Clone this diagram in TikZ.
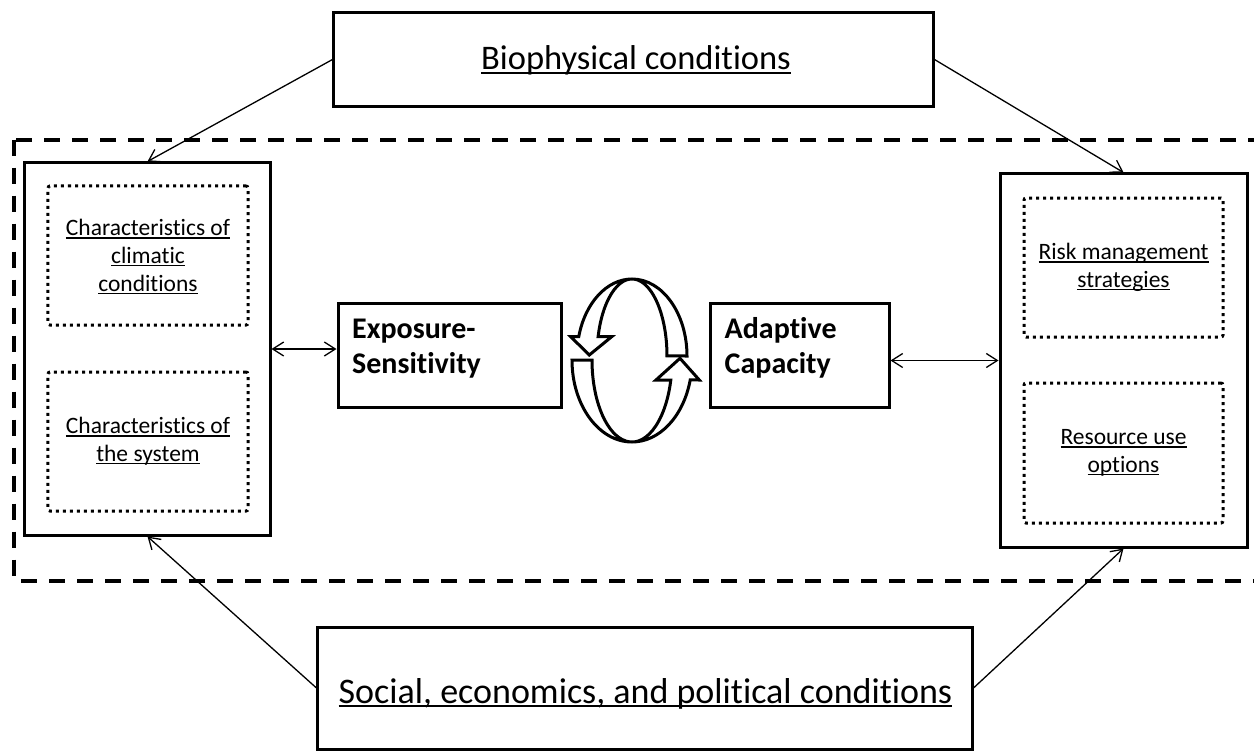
\documentclass[tikz,border=0pt]{standalone}
\usepackage{fontspec}
\setmainfont{Carlito}[Ligatures={NoCommon,NoContextual,NoRare}, RawFeature={-calt}]
\usetikzlibrary{arrows.meta}

% underline at a fixed depth, drawn through the descenders
\newsavebox\ulbox
\newcommand{\ulx}[1]{\sbox\ulbox{#1}\rlap{\smash{\rule[-0.12em]{\wd\ulbox}{0.06em}}}\usebox\ulbox}

\tikzset{
  solidbox/.style={draw, line width=3bp, fill=white, inner sep=0pt},
  dotbox/.style={draw, line width=3bp, dash pattern=on 3bp off 4bp, rounded corners=2bp,
    inner sep=0pt, align=center, font=\fontsize{23.5bp}{27.7bp}\selectfont},
  bigtext/.style={inner sep=0pt, anchor=base},
  boldtext/.style={inner sep=0pt, anchor=base west, font=\fontsize{30bp}{35bp}\selectfont\bfseries},
  dashframe/.style={draw, line width=4bp, dash pattern=on 16bp off 12bp},
  conn/.style={draw, line width=1.3bp, -{Straight Barb[length=11bp,width=14bp]}},
  conn2/.style={draw, line width=1.3bp, {Straight Barb[length=11bp,width=14bp]}-{Straight Barb[length=11bp,width=14bp]}},
  cyc/.style={draw, line width=3bp, fill=white, line join=miter}
}

\begin{document}
\begin{tikzpicture}[x=1bp, y=-1bp]
\useasboundingbox (0,0) rectangle (1254,753);
\fill[white] (0,0) rectangle (1254,753);

% dashed frame around the inner system (open on the right)
\begin{scope}
  \clip (0,0) rectangle (1254,753);
  \draw[dashframe] (14,139.5) rectangle (1290,580.5);
\end{scope}

% outer condition boxes
\node[solidbox, minimum width=599bp, minimum height=93bp] (bio) at (633.5,59.5) {};
\node[bigtext, font=\fontsize{34.5bp}{41bp}\selectfont] (biotext) at (636,70) {\ulx{Biophysical conditions}};
\node[solidbox, minimum width=654bp, minimum height=122bp] (soc) at (645,688) {};
\node[bigtext, font=\fontsize{36bp}{43bp}\selectfont] (soctext) at (645.5,703) {\ulx{Social, economics, and political conditions}};

% left column
\node[solidbox, minimum width=245bp, minimum height=372bp] (lbox) at (147.5,349) {};
\node[dotbox, minimum width=200bp, minimum height=139bp] (clim) at (148,255.5)
  {\ulx{Characteristics of}\\\ulx{climatic}\\\ulx{conditions}};
\node[dotbox, minimum width=200bp, minimum height=139bp] (syst) at (148,441.5)
  {\ulx{Characteristics of}\\\ulx{the system}};

% right column
\node[solidbox, minimum width=247bp, minimum height=373bp] (rbox) at (1123.5,360.5) {};
\node[dotbox, minimum width=199bp, minimum height=139bp] (risk) at (1123.5,267.5)
  {\ulx{Risk management}\\\ulx{strategies}};
\node[dotbox, minimum width=199bp, minimum height=140bp] (res) at (1123.5,453)
  {\ulx{Resource use}\\\ulx{options}};

% central boxes
\node[solidbox, minimum width=223bp, minimum height=104bp] (expo) at (449.5,355) {};
\node[boldtext] (expo1) at (352,338) {Exposure-};
\node[boldtext] (expo2) at (352,373) {Sensitivity};
\node[solidbox, minimum width=179bp, minimum height=104bp] (adap) at (799.5,355) {};
\node[boldtext] (adap1) at (724.5,338) {Adaptive};
\node[boldtext] (adap2) at (724.5,373) {Capacity};

% cycle of two curved block arrows
\draw[cyc] (687,356) arc[start angle=0, end angle=-165.5, x radius=55, y radius=77]
  -- (570.7,336.7) -- (589.3,355) -- (611.7,336.7) -- (598.1,336.7)
  arc[start angle=-165.5, end angle=0, x radius=35, y radius=77] -- cycle;
\draw[cyc] (572,360) arc[start angle=180, end angle=14.1, x radius=60, y radius=82]
  -- (699.3,380) -- (680,358.3) -- (656,380) -- (670.8,380)
  arc[start angle=14.1, end angle=180, x radius=40, y radius=82] -- cycle;

% connectors
\draw[conn] (bio.west) -- (lbox.north);
\draw[conn] (bio.east) -- (rbox.north);
\draw[conn] (soc.west) -- (lbox.south);
\draw[conn] (soc.east) -- (rbox.south);
\draw[conn2] (lbox.east) -- (lbox.east -| expo.west);
\draw[conn2] (adap.east |- rbox.west) -- (rbox.west);
\end{tikzpicture}
\end{document}
